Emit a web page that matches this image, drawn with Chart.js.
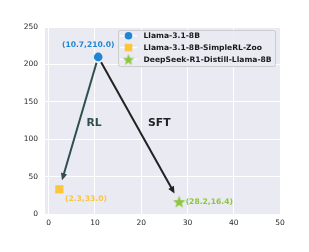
<!DOCTYPE html>
<html><head><meta charset="utf-8">
<script src="https://cdn.jsdelivr.net/npm/chart.js@4/dist/chart.umd.min.js"></script>
<style>html,body{margin:0;padding:0;background:#fff;overflow:hidden}</style>
</head><body><canvas id="c" width="309" height="252" style="width:309px;height:252px;display:block"></canvas>
<script>
// ---- data ----
const modelNames = ['Llama-3.1-8B', 'Llama-3.1-8B-SimpleRL-Zoo', 'DeepSeek-R1-Distill-Llama-8B'];
const xValues = [10.7, 2.3, 28.2];
const yValues = [210.0, 33.0, 16.4];
const xTicks = [0, 10, 20, 30, 40, 50];
const yTicks = [0, 50, 100, 150, 200, 250];
const arrowLabels = ['RL', 'SFT'];
const arrowFrom = [0, 0];
const arrowTo = [1, 2];
const arrowTextX = [9.8, 23.9];
const arrowTextY = [122, 122];

// ---- styles ----
const colors = ['#1f86d3', '#fcc53c', '#8cc63a'];
const arrowColors = ['#2f4f4f', '#222222'];
const FONT = "'DejaVu Sans', sans-serif";

function starCanvas(size, color) {
  const c = document.createElement('canvas');
  c.width = size; c.height = size;
  const g = c.getContext('2d');
  const cx = size / 2, cy = size / 2 + 0.6, R = size / 2, r = R * 0.42;
  g.beginPath();
  for (let i = 0; i < 10; i++) {
    const ang = -Math.PI / 2 + i * Math.PI / 5;
    const rad = i % 2 === 0 ? R : r;
    const px = cx + rad * Math.cos(ang), py = cy + rad * Math.sin(ang);
    i ? g.lineTo(px, py) : g.moveTo(px, py);
  }
  g.closePath(); g.fillStyle = color; g.fill();
  return c;
}
const star = starCanvas(13, colors[2]);
const starSmall = starCanvas(12, colors[2]);
const pointStyles = ['circle', 'rect', star];
const pointRadii = [4.3, 5.8, 6.5];

const datasets = modelNames.map((n, i) => ({
  label: n,
  data: [{x: xValues[i], y: yValues[i]}],
  backgroundColor: colors[i],
  borderColor: colors[i],
  borderWidth: 0,
  pointStyle: pointStyles[i],
  pointRadius: pointRadii[i],
  pointHoverRadius: pointRadii[i]
}));

const bgPlugin = {
  id: 'bg',
  beforeDraw(chart) {
    const {ctx, chartArea: a} = chart;
    ctx.save();
    ctx.fillStyle = '#eaeaf2';
    ctx.fillRect(a.left, a.top, a.right - a.left, a.bottom - a.top);
    ctx.restore();
  }
};

function drawArrow(ctx, x1, y1, x2, y2, color, shrinkA, shrinkB) {
  const dx = x2 - x1, dy = y2 - y1, L = Math.hypot(dx, dy);
  const ux = dx / L, uy = dy / L;
  const sx = x1 + ux * shrinkA, sy = y1 + uy * shrinkA;
  const ex = x2 - ux * shrinkB, ey = y2 - uy * shrinkB;
  const hl = 7, hw = 3.2;
  const bx = ex - ux * hl, by = ey - uy * hl;
  ctx.save();
  ctx.strokeStyle = color; ctx.fillStyle = color; ctx.lineWidth = 2;
  ctx.beginPath(); ctx.moveTo(sx, sy); ctx.lineTo(bx + ux * 1, by + uy * 1); ctx.stroke();
  ctx.beginPath();
  ctx.moveTo(ex, ey);
  ctx.lineTo(bx - uy * hw, by + ux * hw);
  ctx.lineTo(bx + uy * hw, by - ux * hw);
  ctx.closePath(); ctx.fill();
  ctx.restore();
}

const annoPlugin = {
  id: 'anno',
  beforeDatasetsDraw(chart) {
    const {ctx, scales: {x, y}} = chart;
    arrowLabels.forEach((lab, i) => {
      const a = arrowFrom[i], b = arrowTo[i];
      drawArrow(ctx, x.getPixelForValue(xValues[a]), y.getPixelForValue(yValues[a]),
        x.getPixelForValue(xValues[b]), y.getPixelForValue(yValues[b]), arrowColors[i], 6, 9.5);
      ctx.save();
      ctx.font = "bold 10.8px " + FONT;
      ctx.fillStyle = arrowColors[i];
      ctx.textAlign = 'center'; ctx.textBaseline = 'middle';
      ctx.fillText(lab, x.getPixelForValue(arrowTextX[i]), y.getPixelForValue(arrowTextY[i]));
      ctx.restore();
    });
  },
  afterDatasetsDraw(chart) {
    const {ctx, scales: {x, y}} = chart;
    // point value labels
    const offs = [[-10, -12, 'center'], [5.6, 9.5, 'left'], [6.5, 0, 'left']];
    ctx.save();
    ctx.font = "bold 7.6px " + FONT;
    ctx.textBaseline = 'middle';
    xValues.forEach((xv, i) => {
      const px = x.getPixelForValue(xv), py = y.getPixelForValue(yValues[i]);
      ctx.fillStyle = colors[i];
      ctx.textAlign = offs[i][2];
      ctx.fillText('(' + xv.toFixed(1) + ',' + yValues[i].toFixed(1) + ')', px + offs[i][0], py + offs[i][1]);
    });
    ctx.restore();

    // legend
    const L = 118.5, T = 30.5, W = 157, H = 36;
    ctx.save();
    ctx.fillStyle = 'rgba(234,234,242,0.85)';
    ctx.strokeStyle = '#cccccc'; ctx.lineWidth = 1;
    ctx.beginPath();
    ctx.roundRect(L, T, W, H, 2);
    ctx.fill(); ctx.stroke();
    const rows = [35.8, 47.6, 59.4];
    ctx.font = "bold 7.6px " + FONT;
    ctx.textBaseline = 'middle'; ctx.textAlign = 'left';
    modelNames.forEach((n, i) => {
      const ry = rows[i], mx = 128.5;
      ctx.strokeStyle = '#ffffff'; ctx.lineWidth = 1.2;
      ctx.beginPath(); ctx.moveTo(120, ry); ctx.lineTo(137, ry); ctx.stroke();
      ctx.fillStyle = colors[i];
      if (i === 0) { ctx.beginPath(); ctx.arc(mx, ry, 3.8, 0, Math.PI * 2); ctx.fill(); }
      else if (i === 1) { ctx.fillRect(mx - 3.8, ry - 3.8, 7.6, 7.6); }
      else { ctx.drawImage(starSmall, mx - 6, ry - 6); }
      ctx.fillStyle = '#1a1a1a';
      ctx.fillText(n, 143.5, ry + 0.3);
    });
    ctx.restore();
  }
};

new Chart(document.getElementById('c'), {
  type: 'scatter',
  data: {datasets},
  options: {
    responsive: false,
    animation: false,
    devicePixelRatio: 1,
    layout: {padding: {left: 0, top: 27, right: 29, bottom: 0}},
    plugins: {legend: {display: false}, tooltip: {enabled: false}},
    scales: {
      x: {
        type: 'linear', min: -0.8, max: 50,
        afterBuildTicks: s => { s.ticks = xTicks.map(v => ({value: v})); },
        afterFit: s => { s.height = 38; },
        grid: {color: '#ffffff', lineWidth: 1, drawTicks: false},
        border: {display: false},
        ticks: {padding: 5, color: '#262626', font: {family: FONT, size: 7.5}, maxRotation: 0}
      },
      y: {
        type: 'linear', min: 0, max: 250,
        afterBuildTicks: s => { s.ticks = yTicks.map(v => ({value: v})); },
        afterFit: s => { s.width = 45; },
        grid: {color: '#ffffff', lineWidth: 1, drawTicks: false},
        border: {display: false},
        ticks: {padding: 7, color: '#262626', font: {family: FONT, size: 7.5}}
      }
    }
  },
  plugins: [bgPlugin, annoPlugin]
});
</script>
</body></html>
